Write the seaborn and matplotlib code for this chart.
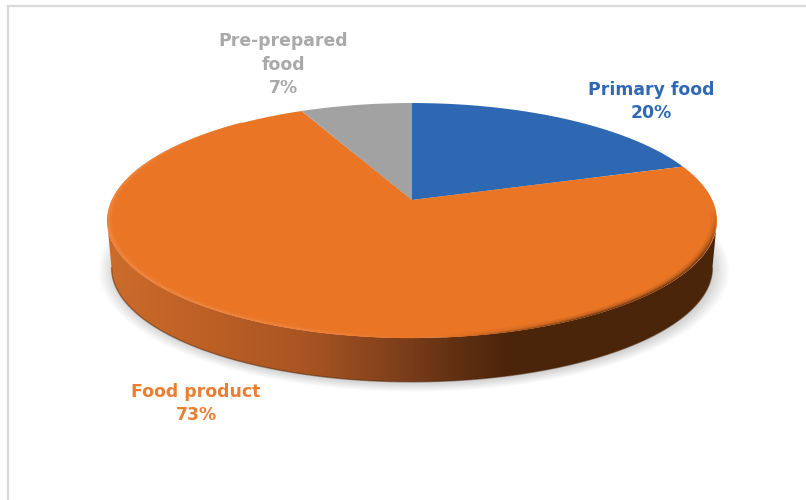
import numpy as np
import matplotlib
matplotlib.use("Agg")
import matplotlib.pyplot as plt
import seaborn as sns
from matplotlib.colors import LinearSegmentedColormap, to_rgb
from matplotlib.collections import LineCollection
from matplotlib.patches import Polygon, PathPatch
from matplotlib.path import Path
from matplotlib.transforms import Affine2D, Transform

# Shares of each food category, in percent
categories = ["Primary food", "Food product", "Pre-prepared\nfood"]
shares = [20, 73, 7]
slice_colors = ["#2E68B2", "#E97525", "#A2A2A2"]
label_colors = ["#2F69B5", "#ED7D31", "#A9A9A9"]

# Layout of the tilted disc on an 806x500 pixel canvas
APEX = (412.0, 200.0)
TILT = 0.1745
TOP_A, TOP_B = 300.3, 113.9
FLOOR_A, FLOOR_B = 295.8, 110.5
FLOOR_Y = 248.0
LABEL_POS = [(651, 101.5), (196, 403.5), (283, 64.5)]


def project(xy, a=TOP_A, b=TOP_B, y0=APEX[1]):
    """Perspective projection of a unit-disc point onto the canvas."""
    xy = np.atleast_2d(xy)
    w = 1 + TILT * xy[:, 1]
    return np.column_stack([APEX[0] + a * xy[:, 0] / w, y0 - b * xy[:, 1] / w])


class TiltTransform(Transform):
    """Maps the flat pie drawn by ax.pie onto the tilted disc."""
    input_dims = output_dims = 2
    has_inverse = False

    def transform_non_affine(self, values):
        return project(values)

    def transform_path_non_affine(self, path):
        scale = Affine2D().scale(400)
        polys = path.to_polygons(transform=scale, closed_only=True)
        return Path(project(polys[0] / 400))


def ring(phi, r=1.0, **kw):
    return project(np.column_stack([r * np.sin(phi), r * np.cos(phi)]), **kw)


sns.set_theme(style="white", rc={"font.family": ["DejaVu Sans"]})
fig = plt.figure(figsize=(8.06, 5.0), dpi=100, facecolor="white")
ax = fig.add_axes([0, 0, 1, 1])

wedges, _ = ax.pie(shares, startangle=90, counterclock=False, radius=1,
                   colors=sns.color_palette(slice_colors), frame=True)
ax.set_aspect("auto")
ax.axis("off")

tilt = TiltTransform() + ax.transData
for w in wedges:
    w.set_transform(tilt)
    w.set_linewidth(0)
    w.set_zorder(5)
    w.set_clip_on(False)

# Soft drop shadow under the disc
phi = np.linspace(0, 2 * np.pi, 721)
floor = ring(phi, a=FLOOR_A, b=FLOOR_B, y0=FLOOR_Y)
centre = floor.mean(axis=0)
for s in np.linspace(1.05, 1.0, 14):
    pts = centre + (floor - centre) * [s, 1 + (s - 1) * 1.3] + [2, 2]
    ax.add_patch(Polygon(pts, closed=True, fc="black", ec="none", alpha=0.010, zorder=1))

# Side wall with a left-to-right shading
wall_cmap = LinearSegmentedColormap.from_list(
    "wall",
    [(0.0, "#CC6C2B"), (0.15, "#BE6126"), (0.33, "#A85422"), (0.48, "#7D3F1B"),
     (0.58, "#5E2F11"), (0.65, "#4C260B"), (0.72, "#4A2509"), (1.0, "#4A2509")])
top_edge = ring(phi)
arc_top = top_edge[np.argmax(top_edge[:, 0]):np.argmin(top_edge[:, 0]) + 1]
arc_floor = floor[np.argmax(floor[:, 0]):np.argmin(floor[:, 0]) + 1]
wall_path = Path(np.vstack([arc_top, arc_floor[::-1], arc_top[:1]]))
grad = ax.imshow(np.linspace(0, 1, 512)[None, :], cmap=wall_cmap, aspect="auto",
                 extent=(107, 718, 400, 200), zorder=3, interpolation="bilinear")
ax.set_xlim(0, 806)
ax.set_ylim(500, 0)
grad.set_clip_path(PathPatch(wall_path, transform=ax.transData))
ax.plot(arc_floor[:, 0], arc_floor[:, 1], color="#4A2509", lw=1.0, alpha=0.5, zorder=3)

# Bevel along the front rim: a light edge on the left, a dark soft edge on the right
face = np.array(to_rgb("#E97525"))
light = np.array(to_rgb("#F28B45"))
dark = np.array(to_rgb("#5A2E0E"))
rim_phi = np.linspace(np.pi * 0.5, np.pi * 1.78, 500)
mids = 0.5 * (rim_phi[:-1] + rim_phi[1:])
dark_weight = np.clip((np.sin(mids) - 0.08) / 0.4, 0, 1) * np.clip((-np.cos(mids) - 0.08) / 0.35, 0, 1)
light_weight = np.clip((0.02 - np.sin(mids)) / 0.3, 0, 1) * np.clip((1.78 * np.pi - mids) / 0.5, 0, 1)
shaded = (dark_weight + light_weight) > 0.02
for r, strength in [(0.9945, 0.8), (0.988, 0.4), (0.982, 0.15)]:
    pts = ring(rim_phi, r=r)
    segs = np.stack([pts[:-1], pts[1:]], axis=1)
    rgb = (face + np.outer(dark_weight * strength, dark - face)
           + np.outer(light_weight * strength, light - face))
    ax.add_collection(LineCollection(segs[shaded], colors=np.clip(rgb[shaded], 0, 1),
                                     linewidths=1.6, zorder=6, capstyle="butt"))

# Panel border, open on the right
ax.plot([7.5, 7.5, 806], [500, 5.5, 5.5], color="#D9D9D9", lw=1.6,
        solid_joinstyle="miter", zorder=7, clip_on=False)

# Category labels
for name, share, colour, (x, y) in zip(categories, shares, label_colors, LABEL_POS):
    ax.text(x, y, f"{name}\n{share}%", color=colour, ha="center", va="center",
            fontsize=12.4, fontweight="bold", linespacing=1.36,
            family="DejaVu Sans", zorder=8)

fig.savefig("out.png", dpi=100)
